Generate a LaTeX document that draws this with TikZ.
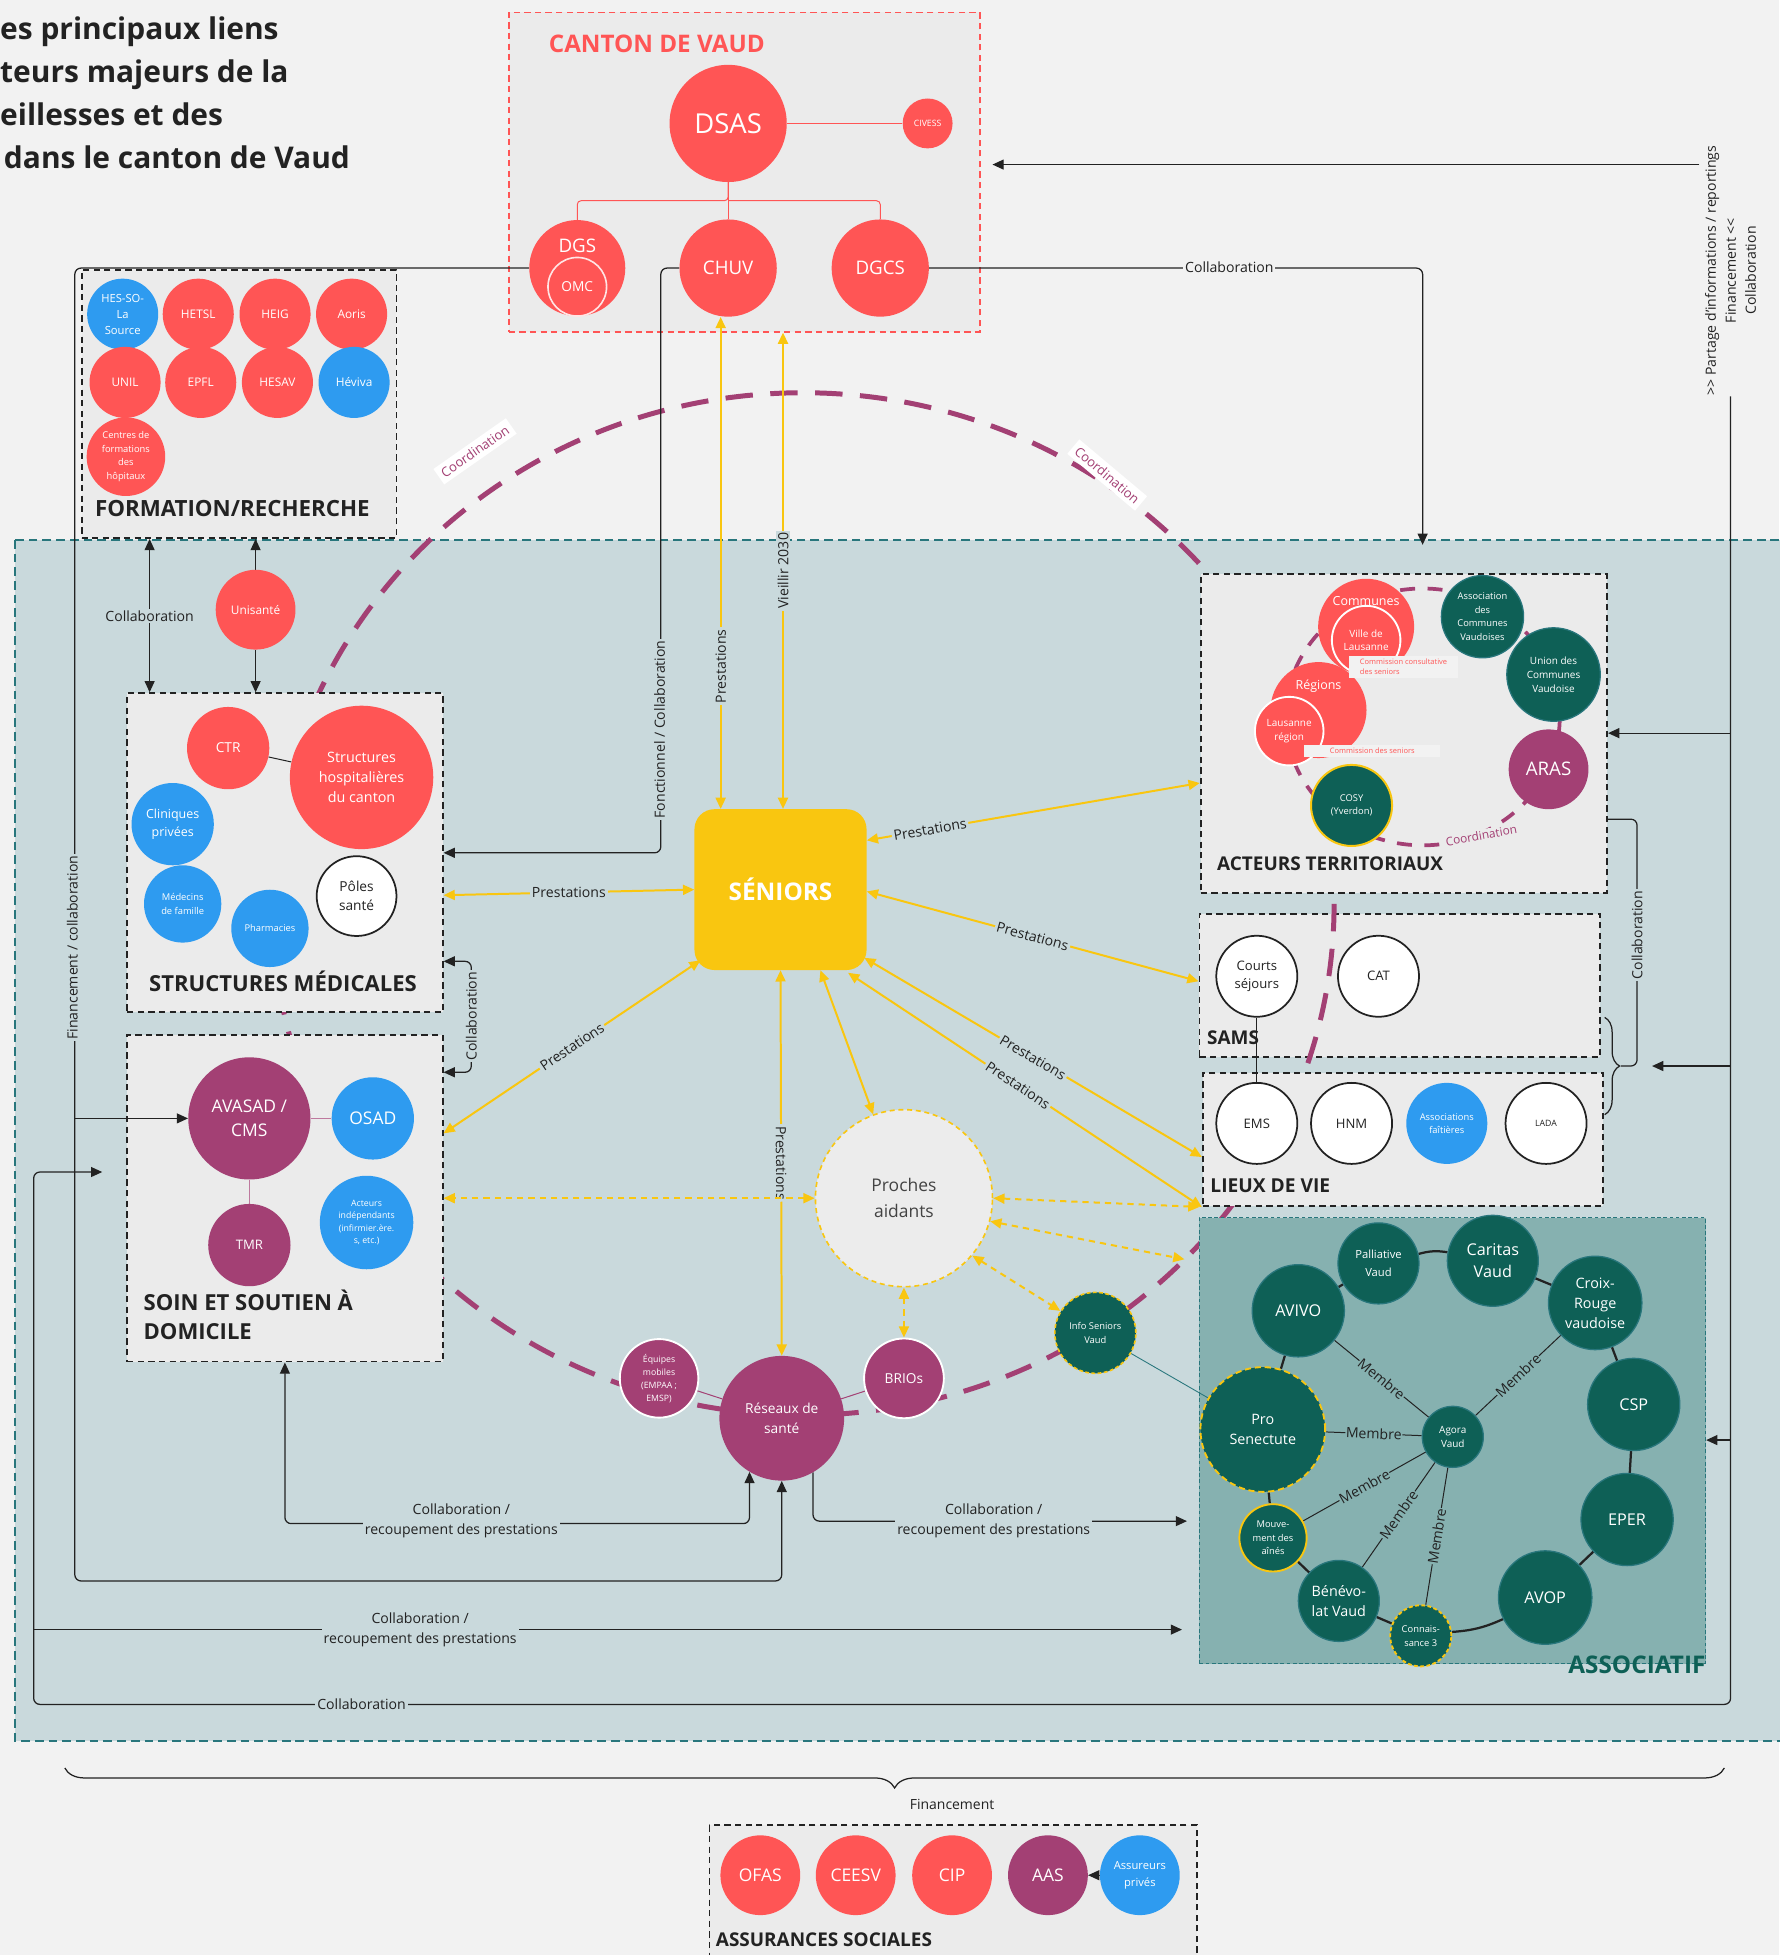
\documentclass[tikz,border=0pt]{standalone}
\usepackage{fontspec}
\setmainfont{Open Sans}
\usetikzlibrary{arrows.meta,positioning,calc,decorations.pathreplacing}

\definecolor{cfond}{RGB}{242,242,242}
\definecolor{czone}{RGB}{201,217,220}
\definecolor{cboite}{RGB}{235,235,235}
\definecolor{crouge}{RGB}{255,85,85}
\definecolor{cbleu}{RGB}{46,155,240}
\definecolor{cviolet}{RGB}{163,64,116}
\definecolor{cvert}{RGB}{14,96,86}
\definecolor{cjaune}{RGB}{249,198,16}
\definecolor{cassoc}{RGB}{134,177,176}
\definecolor{cbord}{RGB}{40,118,124}
\definecolor{ctexte}{RGB}{34,34,34}
\definecolor{cproche}{RGB}{236,236,236}
\definecolor{ccomm}{RGB}{242,242,242}
\newcommand{\taille}[2]{\fontsize{#1}{#2}\selectfont}

\pgfdeclarelayer{fondlayer}
\pgfdeclarelayer{liens}
\pgfsetlayers{fondlayer,liens,main}

\begin{document}
\begin{tikzpicture}[x=1pt,y=-1pt,>={Triangle[length=9pt,width=8pt]},
  rond/.style={circle,inner sep=0pt,align=center,text=white},
  nrouge/.style={rond,fill=crouge},
  nbleu/.style={rond,fill=cbleu},
  nviolet/.style={rond,fill=cviolet},
  nvert/.style={rond,fill=cvert,draw=cbord,line width=1pt},
  nblanc/.style={rond,fill=white,draw=ctexte,line width=1.4pt,text=ctexte},
  boite/.style={rectangle,draw=ctexte,line width=1.5pt,dash pattern=on 5pt off 3.5pt,fill=cboite,inner sep=0pt},
  titre/.style={text=ctexte,inner sep=0pt,anchor=west,font=\bfseries\taille{15}{18}},
  flux/.style={cjaune,line width=1.6pt,<->},
  fluxpt/.style={flux,dash pattern=on 5pt off 4pt},
  lien/.style={ctexte,line width=1pt,rounded corners=5pt},
  etiq/.style={fill=czone,inner sep=1.5pt,text=ctexte,align=center,font=\taille{11.3}{16}},
  membre/.style={ctexte,line width=0.8pt},
  anneau/.style={ctexte,line width=1.8pt},
  coord/.style={cviolet,line width=4pt,dash pattern=on 22pt off 14pt},
  coordtxt/.style={text=cviolet,inner sep=3.5pt,font=\taille{10.5}{12}}]

\useasboundingbox (0,0) rectangle (1427,1568);

\begin{pgfonlayer}{fondlayer}
\fill[cfond] (0,0) rectangle (1427,1568);
\draw[cbord,line width=1.5pt,dash pattern=on 7pt off 4pt,fill=czone] (12,433) rectangle (1445,1396);

% boite SAMS sous la coordination
\node[boite,minimum width=321.5,minimum height=115] (sams) at (1122.75,790.5) {};

% grande boucle de coordination
\draw[coord] (644,725) ellipse [x radius=426, y radius=410];
\node[coordtxt,fill=white,rotate=35] (coordA) at (381,362) {Coordination};
\node[coordtxt,fill=white,rotate=-40] (coordB) at (888,381) {Coordination};

% boites
\node[boite,draw=crouge,minimum width=378,minimum height=256] (canton) at (597,138) {};
\node[boite,minimum width=252.5,minimum height=215] (formation) at (191.75,324) {};
\node[boite,minimum width=253,minimum height=256] (medic) at (228.5,684) {};
\node[boite,minimum width=253,minimum height=262] (soin) at (228.5,961) {};
\node[boite,minimum width=326,minimum height=255.5] (acteurs) at (1126,588.25) {};
\node[boite,minimum width=321.3,minimum height=107] (lieux) at (1125.35,913.9) {};
\node[rectangle,draw=cbord,line width=0.8pt,dash pattern=on 3pt off 2pt,fill=cassoc,minimum width=406,minimum height=358] (assoc) at (1165,1155.5) {};
\node[boite,minimum width=391,minimum height=136] (assur) at (764.5,1532) {};

% boucle des acteurs territoriaux
\draw[cviolet,line width=3pt,dash pattern=on 12pt off 10pt] (1141,575) ellipse [x radius=110, y radius=103];
\node[coordtxt,fill=cboite,inner sep=1pt,rotate=10,font=\taille{9.5}{11}] (coordC) at (1188,670) {Coordination};
\end{pgfonlayer}

% titre
\node[anchor=base west,inner sep=0pt,font=\bfseries\taille{24}{28},text=ctexte] (titre1) at (0,32) {es principaux liens};
\node[anchor=base west,inner sep=0pt,font=\bfseries\taille{24}{28},text=ctexte] (titre2) at (0,66.5) {teurs majeurs de la};
\node[anchor=base west,inner sep=0pt,font=\bfseries\taille{24}{28},text=ctexte] (titre3) at (0,101) {eillesses et des};
\node[anchor=base west,inner sep=0pt,font=\bfseries\taille{24}{28},text=ctexte] (titre4) at (3,135.5) {dans le canton de Vaud};

% canton de Vaud
\node[titre,text=crouge,font=\bfseries\taille{19.4}{22}] (tcanton) at (440,35) {CANTON DE VAUD};
\node[nrouge,minimum size=94,font=\taille{22}{26}] (dsas) at (584,99) {DSAS};
\node[nrouge,minimum size=40,font=\taille{7}{8}] (civess) at (744,99) {CIVESS};
\node[nrouge,minimum size=77] (dgs) at (463,215) {};
\node[text=white,font=\taille{15}{18}] (tdgs) at (463,197) {DGS};
\node[nrouge,draw=white!85!crouge,line width=1.3pt,minimum size=47,font=\taille{11}{13}] (omc) at (463,230) {OMC};
\node[nrouge,minimum size=78,font=\taille{15}{18}] (chuv) at (584,215) {CHUV};
\node[nrouge,minimum size=78,font=\taille{15}{18}] (dgcs) at (706,215) {DGCS};

% formation / recherche
\node[nbleu,minimum size=57,font=\taille{9}{13}] (hesso) at (98.4,252) {HES-SO-\\La\\Source};
\node[nrouge,minimum size=57,font=\taille{9.5}{12}] (hetsl) at (159,252) {HETSL};
\node[nrouge,minimum size=57,font=\taille{9.5}{12}] (heig) at (220.6,252) {HEIG};
\node[nrouge,minimum size=57,font=\taille{9.5}{12}] (aoris) at (282,252) {Aoris};
\node[nrouge,minimum size=57,font=\taille{9.5}{12}] (unil) at (100.3,306.7) {UNIL};
\node[nrouge,minimum size=57,font=\taille{9.5}{12}] (epfl) at (161,306.7) {EPFL};
\node[nrouge,minimum size=57,font=\taille{9.5}{12}] (hesav) at (222.5,306.7) {HESAV};
\node[nbleu,minimum size=57,font=\taille{9.5}{12}] (heviva) at (284,306.7) {Héviva};
\node[nrouge,minimum size=63,font=\taille{7.5}{11}] (centres) at (101,366.3) {Centres de\\formations\\des\\hôpitaux};
\node[titre,font=\bfseries\taille{17.9}{21}] (tformation) at (76,407.7) {FORMATION/RECHERCHE};
\node[nrouge,minimum size=64,font=\taille{9.5}{11}] (unisante) at (205,489) {Unisanté};

% structures medicales
\node[nrouge,minimum size=66,font=\taille{11}{13}] (ctr) at (183,600) {CTR};
\node[nrouge,minimum size=115,font=\taille{11.5}{16}] (hosp) at (290,623.5) {Structures\\hospitalières\\du canton};
\node[nbleu,minimum size=66,font=\taille{10}{14}] (cliniques) at (138.5,661) {Cliniques\\privées};
\node[nbleu,minimum size=62,font=\taille{7.5}{11}] (medecins) at (146.5,725) {Médecins\\de famille};
\node[nbleu,minimum size=62,font=\taille{7.5}{11}] (pharma) at (216.5,744.6) {Pharmacies};
\node[nblanc,minimum size=64,font=\taille{11}{15}] (poles) at (286,718.7) {Pôles\\santé};
\node[titre,anchor=center,font=\bfseries\taille{17.7}{20}] (tmedic) at (227,787) {STRUCTURES MÉDICALES};

% soin et soutien a domicile
\node[nviolet,minimum size=98,font=\taille{14}{19}] (avasad) at (200,897) {AVASAD /\\CMS};
\node[nbleu,minimum size=66,font=\taille{14}{17}] (osad) at (299,897) {OSAD};
\node[nviolet,minimum size=66,font=\taille{10.5}{13}] (tmr) at (200,998.6) {TMR};
\node[nbleu,minimum size=75,font=\taille{7}{10}] (independants) at (294,980.5) {Acteurs\\indépendants\\(infirmier.ère.\\s, etc.)};
\node[titre,align=left,font=\bfseries\taille{17.7}{23.5}] (tsoin) at (115,1054.5) {SOIN ET SOUTIEN À\\DOMICILE};

% seniors et proches
\node[fill=cjaune,rounded corners=16pt,minimum width=138,minimum height=129,text=white,font=\bfseries\taille{19.5}{24}] (seniors) at (626,713.5) {SÉNIORS};
\node[rond,fill=cproche,draw=cjaune,line width=1.3pt,dash pattern=on 4pt off 3pt,minimum size=142,text=ctexte!85,font=\taille{14}{21}] (proches) at (725,961) {Proches\\aidants};

% reseaux
\node[nviolet,minimum size=100,font=\taille{11}{16}] (reseaux) at (627,1137.5) {Réseaux de\\santé};
\node[nviolet,draw=white,line width=1.5pt,minimum size=63,font=\taille{7}{10.5}] (equipes) at (528.6,1105.5) {Équipes\\mobiles\\(EMPAA ;\\EMSP)};
\node[nviolet,draw=white,line width=1.5pt,minimum size=64,font=\taille{11}{13}] (brios) at (725,1105.5) {BRIOs};
\node[nvert,draw=cjaune,line width=1.3pt,dash pattern=on 3pt off 2pt,minimum size=65,font=\taille{7.5}{11}] (infosen) at (878.5,1069) {Info Seniors\\Vaud};

% acteurs territoriaux
\node[nrouge,minimum size=77] (communes) at (1095.7,502.7) {};
\node[text=white,font=\taille{10}{12}] (tcommunes) at (1095.7,481.8) {Communes};
\node[nrouge,draw=white,line width=1.5pt,minimum size=55,font=\taille{8}{11}] (ville) at (1095.7,513.4) {Ville de\\Lausanne};
\node[nrouge,minimum size=77] (regions) at (1057.5,569.5) {};
\node[text=white,font=\taille{10}{12}] (tregions) at (1057.5,550.3) {Régions};
\node[nrouge,draw=white,line width=1.5pt,minimum size=55,font=\taille{8}{11}] (lausreg) at (1034,586.4) {Lausanne\\région};
\node[fill=ccomm,text=crouge,anchor=north west,align=left,inner sep=2.5pt,minimum width=87,font=\taille{6}{8}] (commcons) at (1082,526) {Commission consultative\\des seniors};
\node[fill=ccomm,text=crouge,anchor=north west,align=left,inner sep=2.5pt,minimum width=109,font=\taille{6}{8}] (commsen) at (1046,597) {Commission des seniors};
\node[nvert,minimum size=66,font=\taille{7.5}{10.8}] (assocom) at (1189,494.6) {Association\\des\\Communes\\Vaudoises};
\node[nvert,minimum size=75,font=\taille{8}{11.2}] (union) at (1246,541) {Union des\\Communes\\Vaudoise};
\node[nviolet,minimum size=64,font=\taille{15}{18}] (aras) at (1242,617) {ARAS};
\node[nvert,draw=cjaune,line width=1.6pt,minimum size=65,font=\taille{7.5}{11}] (cosy) at (1084,646) {COSY\\(Yverdon)};
\node[titre,font=\bfseries\taille{15.2}{18}] (tacteurs) at (976,693) {ACTEURS TERRITORIAUX};

% SAMS et lieux de vie
\node[nblanc,minimum size=65,font=\taille{10.5}{15}] (courts) at (1008,783) {Courts\\séjours};
\node[nblanc,minimum size=65,font=\taille{10.5}{13}] (cat) at (1105.6,783) {CAT};
\node[titre,font=\bfseries\taille{15.2}{18}] (tsams) at (968,832) {SAMS};
\node[nblanc,minimum size=65,font=\taille{10.5}{13}] (ems) at (1008,901) {EMS};
\node[nblanc,minimum size=65,font=\taille{10.5}{13}] (hnm) at (1084,901) {HNM};
\node[nbleu,minimum size=65,font=\taille{7.5}{10.5}] (faitieres) at (1160.4,901) {Associations\\faîtières};
\node[nblanc,minimum size=65,font=\taille{7}{9}] (lada) at (1240,901) {LADA};
\node[titre,font=\bfseries\taille{15.4}{18}] (tlieux) at (970.6,951) {LIEUX DE VIE};

% associatif
\node[nvert,minimum size=65,font=\taille{9}{14}] (palliative) at (1105.6,1013.3) {Palliative\\Vaud};
\node[nvert,minimum size=73,font=\taille{13}{18}] (caritas) at (1197.3,1011.2) {Caritas\\Vaud};
\node[nvert,minimum size=74,font=\taille{13}{16}] (avivo) at (1041.3,1051.3) {AVIVO};
\node[nvert,minimum size=75,font=\taille{11.5}{16}] (croix) at (1279.4,1045) {Croix-\\Rouge\\vaudoise};
\node[nvert,minimum size=74,font=\taille{13}{16}] (csp) at (1310.3,1126.4) {CSP};
\node[nvert,draw=cjaune,line width=1.5pt,dash pattern=on 5pt off 3pt,minimum size=100,font=\taille{11.5}{16}] (prosen) at (1012.8,1146.5) {Pro\\Senectute};
\node[nvert,minimum size=49,font=\taille{8}{11}] (agora) at (1165.2,1152.4) {Agora\\Vaud};
\node[nvert,minimum size=74,font=\taille{13}{16}] (eper) at (1305,1218.7) {EPER};
\node[nvert,draw=cjaune,line width=1.5pt,minimum size=54,font=\taille{7.5}{11}] (mouvement) at (1021,1233.4) {Mouve-\\ment des\\aînés};
\node[nvert,minimum size=65,font=\taille{11.5}{16}] (benevolat) at (1073.8,1284) {Bénévo-\\lat Vaud};
\node[nvert,draw=cjaune,line width=1.5pt,dash pattern=on 3pt off 2pt,minimum size=49,font=\taille{7.5}{11}] (conn) at (1139.5,1312) {Connais-\\sance 3};
\node[nvert,minimum size=75,font=\taille{13}{16}] (avop) at (1239.3,1281.3) {AVOP};
\node[titre,anchor=east,text=cvert,font=\bfseries\taille{19.5}{22}] (tassoc) at (1368,1335) {ASSOCIATIF};

% assurances sociales
\node[nrouge,minimum size=64,font=\taille{14}{17}] (ofas) at (609.8,1504) {OFAS};
\node[nrouge,minimum size=64,font=\taille{14}{17}] (ceesv) at (686.3,1504) {CEESV};
\node[nrouge,minimum size=64,font=\taille{14}{17}] (cip) at (763.6,1504) {CIP};
\node[nviolet,minimum size=64,font=\taille{14}{17}] (aas) at (840.5,1504) {AAS};
\node[nbleu,minimum size=64,font=\taille{9}{13}] (assureurs) at (914.2,1504) {Assureurs\\privés};
\node[titre,font=\bfseries\taille{15.2}{18}] (tassur) at (574,1555.6) {ASSURANCES SOCIALES};

\begin{pgfonlayer}{liens}
% liens internes
\draw[crouge,line width=0.8pt,rounded corners=3pt] (dsas.south) -- (584,161) -| (dgs.north);
\draw[crouge,line width=0.8pt,rounded corners=3pt] (584,161) -| (dgcs.north);
\draw[crouge,line width=0.8pt] (dsas.south) -- (chuv.north);
\draw[crouge,line width=0.8pt] (dsas.east) -- (civess.west);
\draw[ctexte,line width=0.8pt] (ctr) -- (hosp);
\draw[cviolet!70,line width=0.8pt] (avasad) -- (osad);
\draw[cviolet!70,line width=0.8pt] (avasad) -- (tmr);
\draw[cviolet,line width=0.8pt] (equipes) -- (reseaux);
\draw[cviolet,line width=0.8pt] (brios) -- (reseaux);
\draw[cbord,line width=0.7pt] (infosen) -- (prosen);
\draw[ctexte,line width=0.8pt] (courts) -- (ems);
\draw[lien,->] (assureurs) -- (aas);

% prestations
\draw[flux] ($(seniors.north)+(-48,0)$) -- node[etiq,pos=0.29,sloped] {Prestations} ($(chuv.south)+(-6,0)$);
\draw[flux] ($(seniors.north)+(2,0)$) -- node[etiq,midway,sloped] {Vieillir 2030} ($(canton.south)+(31,0)$);
\draw[flux] (reseaux.north) -- node[etiq,midway,sloped] {Prestations} (seniors.south);
\draw[flux] ($(seniors.south)+(32,0)$) -- (proches);
\draw[flux] ($(seniors.east)+(0,-39.5)$) -- node[etiq,pos=0.19,sloped] {Prestations} (acteurs.west |- 0,628);
\draw[flux] ($(seniors.east)+(0,1.5)$) -- node[etiq,midway,sloped] {Prestations} (sams.west |- 0,787);
\draw[flux] ($(seniors.south east)+(-2,-10)$) -- node[etiq,midway,sloped] {Prestations} (lieux.west |- 0,928);
\draw[flux] ($(seniors.south east)+(-15,2)$) -- node[etiq,pos=0.48,sloped] {Prestations} (lieux.south west);
\draw[flux] (seniors.west) -- node[etiq,midway] {Prestations} (medic.east |- 0,718);
\draw[flux] ($(seniors.south west)+(5,-8)$) -- node[etiq,midway,sloped] {Prestations} (soin.east |- 0,909);
\draw[fluxpt] (proches.west) -- (soin.east |- 0,961);
\draw[fluxpt] (proches.east) -- (962,968);
\draw[fluxpt] (proches.-15) -- (950,1010);
\draw[fluxpt] (proches.-40) -- (infosen);
\draw[fluxpt] (proches.south) -- (brios.north);

% collaborations
\draw[lien,->] (dgs.west) -| (60,1268) -| (reseaux.south);
\node[etiq,rotate=90] (lfinanc) at (58,760) {Financement / collaboration};
\draw[lien,->] (60,897) -- (avasad.west);
\draw[lien,->] (chuv.west) -| (530,684) -- (medic.east |- 0,684);
\node[etiq,rotate=90] (lfonct) at (529,585) {Fonctionnel / Collaboration};
\draw[lien,<->] (medic.east |- 0,771) -- (378,771) -- (378,860) -- (soin.east |- 0,860);
\node[etiq,rotate=90] (lcollabms) at (378,815) {Collaboration};
\draw[lien,<->] (formation.south -| 120,0) -- (medic.north -| 120,0);
\node[etiq] (lcollabfm) at (120,494) {Collaboration};
\draw[lien,->] (unisante.north) -- (formation.south -| unisante.north);
\draw[lien,->] (unisante.south) -- (medic.north -| unisante.south);
\draw[lien,<->] (soin.south) |- (400,1222) -| (reseaux.239);
\node[etiq] (lrecoup1) at (370,1220) {Collaboration /\\recoupement des prestations};
\draw[lien,->] (reseaux.300) |- (952,1220);
\node[etiq] (lrecoup2) at (797,1220) {Collaboration /\\recoupement des prestations};
\draw[lien,->] (27,1307) -- (948,1307);
\node[etiq] (lrecoup3) at (337,1307) {Collaboration /\\recoupement des prestations};
\draw[lien,->] (1388,318) -- (1388,1367) -| (27,940) -- (82,940);
\node[etiq] (lcollabbas) at (290,1367) {Collaboration};
\draw[lien,->] (1363,132) -- (796,132);
\node[text=ctexte,rotate=90,align=center,font=\taille{11.3}{16}] (lpartage) at (1388,217) {>{}> Partage d'informations / reportings\\Financement <{}<\\Collaboration};
\draw[lien,->] (1388,588) -- (acteurs.east |- 0,588);
\draw[lien,->] (1388,855) -- (1325,855);
\draw[lien,->] (1388,1155) -- (assoc.east |- 0,1155);
\draw[lien,->] (dgcs.east) -| (1141,437);
\node[etiq,fill=cfond] (lcollabdgcs) at (986,214) {Collaboration};
\draw[lien] (acteurs.east |- 0,657) -| (1313,855) -- (1300,855);
\node[etiq,rotate=90] (lcollabact) at (1313,750) {Collaboration};
\draw[lien,rounded corners=0pt,decorate,decoration={brace,amplitude=12pt}] (1287,816) -- (1287,894);
\draw[lien,rounded corners=0pt,decorate,decoration={brace,amplitude=16pt}] (1383,1418) -- (52,1418);
\node[text=ctexte,font=\taille{11.2}{13}] (lfinancement) at (763.6,1447) {Financement};

% associatif
\draw[anneau] (avivo) -- (palliative);
\draw[anneau] (palliative) to[bend left=12] (caritas);
\draw[anneau] (caritas) -- (croix);
\draw[anneau] (croix) -- (csp);
\draw[anneau] (csp) -- (eper);
\draw[anneau] (eper) -- (avop);
\draw[anneau] (avop) to[bend left=10] (conn);
\draw[anneau] (conn) -- (benevolat);
\draw[anneau] (benevolat) -- (mouvement);
\draw[anneau] (mouvement) -- (prosen);
\draw[anneau] (prosen) -- (avivo);
\draw[membre] (agora) -- node[etiq,fill=cassoc,sloped,inner sep=0.5pt] {Membre} (avivo);
\draw[membre] (agora) -- node[etiq,fill=cassoc,sloped,inner sep=0.5pt] {Membre} (croix);
\draw[membre] (agora) -- node[etiq,fill=cassoc,sloped,inner sep=0.5pt] {Membre} (prosen);
\draw[membre] (agora) -- node[etiq,fill=cassoc,sloped,inner sep=0.5pt] {Membre} (mouvement);
\draw[membre] (agora) -- node[etiq,fill=cassoc,sloped,inner sep=0.5pt] {Membre} (benevolat);
\draw[membre] (agora) -- node[etiq,fill=cassoc,sloped,inner sep=0.5pt] {Membre} (conn);
\end{pgfonlayer}

\end{tikzpicture}
\end{document}
